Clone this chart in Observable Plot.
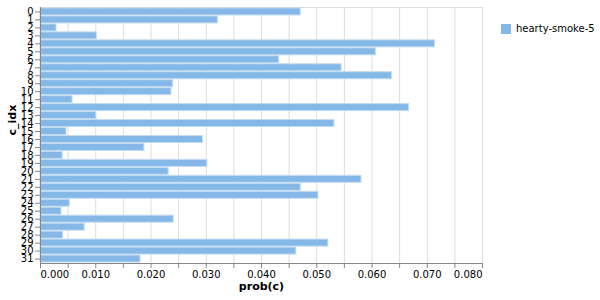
<!DOCTYPE html>
<html><head><meta charset="utf-8">
<script src="https://cdn.jsdelivr.net/npm/d3@7"></script>
<script src="https://cdn.jsdelivr.net/npm/@observablehq/plot@0.6"></script>
<style>
body{margin:0;background:#fff;font-family:"DejaVu Sans",sans-serif}
#wrap{position:relative;width:600px;height:300px}
#legend{position:absolute;left:501px;top:24px;display:flex;align-items:center;font-size:10px;color:#000;font-family:"DejaVu Sans",sans-serif;line-height:10px}
#legend .sw{display:inline-block;width:10px;height:10px;margin-right:5px}
</style></head><body><div id="wrap"></div>
<script>
const runName = "hearty-smoke-5";
const cIdx = [0,1,2,3,4,5,6,7,8,9,10,11,12,13,14,15,16,17,18,19,20,21,22,23,24,25,26,27,28,29,30,31];
const probs = [0.0471,0.0321,0.0029,0.0102,0.0714,0.0607,0.0432,0.0545,0.0636,0.0240,
  0.0237,0.0058,0.0667,0.0101,0.0532,0.0047,0.0294,0.0188,0.0040,0.0302,
  0.0232,0.0581,0.0471,0.0503,0.0053,0.0038,0.0241,0.0080,0.0041,0.0521,
  0.0463,0.0181];
const xTicks = [0,0.005,0.01,0.015,0.02,0.025,0.03,0.035,0.04,0.045,0.05,0.055,0.06,0.065,0.07,0.075,0.08];
const xLabelVals = [0,0.01,0.02,0.03,0.04,0.05,0.06,0.07,0.08];
const xTitle = "prob(c)";
const yTitle = "c_idx";
const barColor = "#85b8e6";

const data = cIdx.map((c, i) => ({c_idx: c, prob: probs[i]}));
const fmt = d3.format(".3f");
const midLabels = xLabelVals.slice(1, -1);

const chart = Plot.plot({
  width: 600, height: 300,
  marginLeft: 40, marginRight: 118, marginTop: 7, marginBottom: 37,
  style: {fontFamily: "DejaVu Sans, sans-serif", fontSize: "10px", color: "#000", background: "#fff"},
  x: {domain: [0, 0.08], axis: null},
  y: {domain: cIdx, axis: null, padding: 0.12},
  marks: [
    Plot.gridX(xTicks, {stroke: "#ddd", strokeOpacity: 1}),
    Plot.frame({stroke: "#ddd"}),
    Plot.barX(data, {x: "prob", y: "c_idx", fill: barColor, stroke: "#c2dcf3", strokeWidth: 1}),
    Plot.axisX(xTicks, {tickSize: 5, stroke: "#888", tickFormat: () => "", label: null}),
    Plot.axisX(midLabels, {tickSize: 0, tickPadding: 7, tickFormat: fmt, fontSize: 10, label: null}),
    Plot.axisX([xLabelVals[0]], {tickSize: 0, tickPadding: 7, tickFormat: fmt, fontSize: 10, textAnchor: "start", label: null}),
    Plot.axisX([xLabelVals[xLabelVals.length - 1]], {tickSize: 0, tickPadding: 7, tickFormat: fmt, fontSize: 10, textAnchor: "end", label: null}),
    Plot.frame({anchor: "bottom", stroke: "#888"}),
    Plot.frame({anchor: "left", stroke: "#888"}),
    Plot.axisY({tickSize: 5, tickPadding: 2, stroke: "#888", fontSize: 10, label: null}),
    Plot.text([xTitle], {frameAnchor: "bottom", dy: 26, lineAnchor: "bottom", fontWeight: "bold", fontSize: 11}),
    Plot.text([yTitle], {frameAnchor: "left", dx: -28, rotate: -90, fontWeight: "bold", fontSize: 11})
  ]
});

const wrap = document.getElementById("wrap");
wrap.appendChild(chart);
const legend = document.createElement("div");
legend.id = "legend";
legend.innerHTML = `<span class="sw" style="background:${barColor}"></span><span>${runName}</span>`;
wrap.appendChild(legend);
</script></body></html>
